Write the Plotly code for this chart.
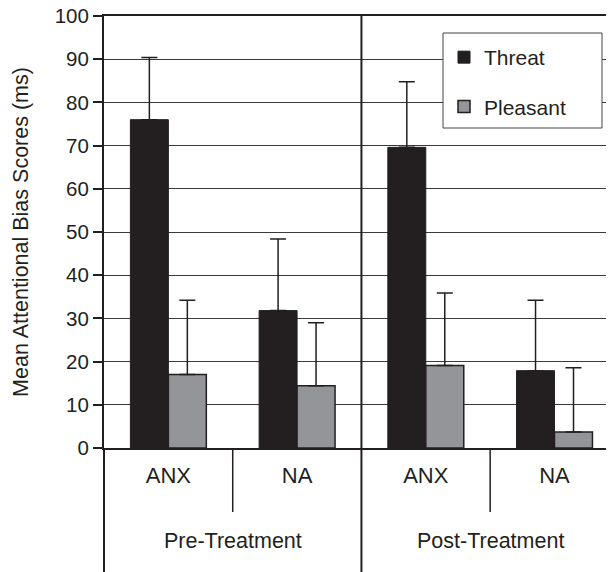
import plotly.graph_objects as go

# ---- data ----
phases = ["Pre-Treatment", "Pre-Treatment", "Post-Treatment", "Post-Treatment"]
groups = ["ANX", "NA", "ANX", "NA"]
threat = [76.0, 31.8, 69.6, 17.9]
threat_err = [14.4, 16.6, 15.2, 16.3]
pleasant = [17.0, 14.4, 19.1, 3.7]
pleasant_err = [17.2, 14.6, 16.8, 14.9]
y_ticks = list(range(0, 101, 10))

INK = "#231f20"
GREY = "#939598"
FONT = "Liberation Sans, Arial, Helvetica, sans-serif"

idx = list(range(len(groups)))
x_range = [-0.5, 3.4]

W, H = 608, 572
# plot area on screen: x 104..606, y 16..448 (page margin removed below)
ml, mr, mt, mb = 104, 2, 16, 124
ph = H - mt - mb
pw = W - ml - mr


def to_paper(v):
    return (v - x_range[0]) / (x_range[1] - x_range[0])


def px_x(sx):
    return (sx - ml) / pw


def px_y(sy):
    return 1 - (sy - mt) / ph


fig = go.Figure()
fig.add_trace(go.Bar(
    x=idx, y=threat, name="Threat", legendgroup="t",
    marker=dict(color=INK, line=dict(color=INK, width=1)),
    error_y=dict(type="data", symmetric=False, array=threat_err,
                 arrayminus=[0] * len(threat), color=INK, thickness=1.5, width=8),
))
fig.add_trace(go.Bar(
    x=idx, y=pleasant, name="Pleasant", legendgroup="p",
    marker=dict(color=GREY, line=dict(color=INK, width=1.5)),
    error_y=dict(type="data", symmetric=False, array=pleasant_err,
                 arrayminus=[0] * len(pleasant), color=INK, thickness=1.5, width=8),
))

shapes = []
phase_order = list(dict.fromkeys(phases))
bounds = [phases.index(p) - 0.5 for p in phase_order[1:]]
bottom = -mb / ph
shapes.append(dict(type="line", xref="paper", yref="paper", x0=0, x1=0,
                   y0=0, y1=bottom, line=dict(color=INK, width=2)))
for b in bounds:
    shapes.append(dict(type="line", xref="paper", yref="paper", x0=to_paper(b), x1=to_paper(b),
                       y0=1, y1=bottom, line=dict(color=INK, width=2)))
for i in range(1, len(groups)):
    b = i - 0.5
    if b not in bounds:
        shapes.append(dict(type="line", xref="paper", yref="paper", x0=to_paper(b), x1=to_paper(b),
                           y0=0, y1=-64 / ph, line=dict(color=INK, width=1.5)))

# legend frame
shapes.append(dict(type="rect", xref="paper", yref="paper", layer="above",
                   x0=px_x(443), x1=px_x(602), y0=px_y(128), y1=px_y(33),
                   fillcolor="white", line=dict(color="#444", width=1)))

annotations = []
for p in phase_order:
    pos = [i for i, q in zip(idx, phases) if q == p]
    annotations.append(dict(x=sum(pos) / len(pos), xref="x", y=0, yref="paper",
                            yshift=-93, yanchor="middle", text=p, showarrow=False,
                            font=dict(size=21.5, color=INK)))

fig.update_layout(
    width=W, height=H,
    margin=dict(l=ml, r=mr, t=mt, b=mb),
    paper_bgcolor="white", plot_bgcolor="white",
    font=dict(family=FONT, size=20, color=INK),
    barmode="group", bargap=0.41, bargroupgap=0,
    showlegend=True,
    legend=dict(x=px_x(444), y=px_y(37), xanchor="left", yanchor="top",
                bgcolor="rgba(0,0,0,0)", borderwidth=0,
                font=dict(size=21, color=INK), traceorder="grouped", tracegroupgap=19),
    shapes=shapes,
    annotations=annotations,
)
fig.update_xaxes(
    range=x_range, tickmode="array", tickvals=idx, ticktext=groups,
    showline=True, mirror=True, automargin=False,
    linecolor=INK, linewidth=2, ticks="outside", ticklen=7, tickcolor="rgba(0,0,0,0)",
    showgrid=False, zeroline=False,
    tickfont=dict(size=22, color=INK),
)
fig.update_yaxes(
    range=[0, 100], tickvals=y_ticks, ticks="outside", ticklen=9, tickwidth=1.5,
    tickcolor=INK, showline=True, linecolor=INK, linewidth=2, automargin=False,
    showgrid=True, gridcolor="#3a3a3a", gridwidth=1, zeroline=False,
    tickfont=dict(size=20.5, color=INK),
    title=dict(text="Mean Attentional Bias Scores (ms)", font=dict(size=21.5, color=INK), standoff=20),
)

fig.write_html("out.html", config={"displayModeBar": False},
               post_script="document.body.style.margin='0';")
